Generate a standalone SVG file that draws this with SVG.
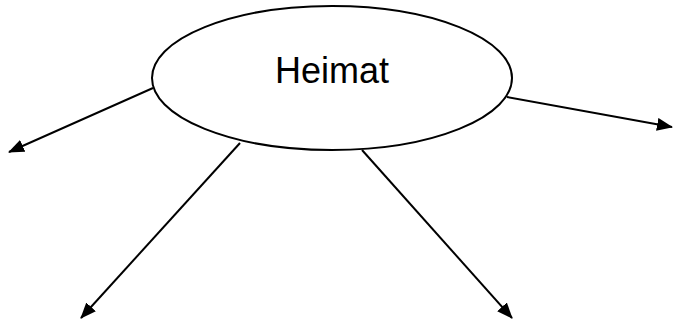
<svg xmlns="http://www.w3.org/2000/svg" width="673" height="320" viewBox="0 0 673 320">
<defs>
<marker id="ah" markerWidth="16" markerHeight="13" refX="15" refY="6.5" orient="auto" markerUnits="userSpaceOnUse">
<path d="M0,0 L16,6.5 L0,13 Z" fill="#000"/>
</marker>
<style>
.c{stroke:#000;stroke-width:2;fill:none;marker-end:url(#ah)}
.n{fill:#fff;stroke:#000;stroke-width:2}
.t{font-family:"Liberation Sans",Arial,sans-serif;font-size:36px;fill:#000}
</style>
</defs>
<rect width="673" height="320" fill="#fff"/>
<g id="connectors">
<line class="c" x1="153" y1="88" x2="9" y2="152"/>
<line class="c" x1="507" y1="97" x2="672" y2="127"/>
<line class="c" x1="240" y1="143" x2="81" y2="318"/>
<line class="c" x1="362" y1="150" x2="512" y2="318"/>
</g>
<g id="heimat">
<ellipse class="n" cx="332" cy="78" rx="180" ry="72"/>
<text class="t" x="332" y="83" text-anchor="middle">Heimat</text>
</g>
</svg>
